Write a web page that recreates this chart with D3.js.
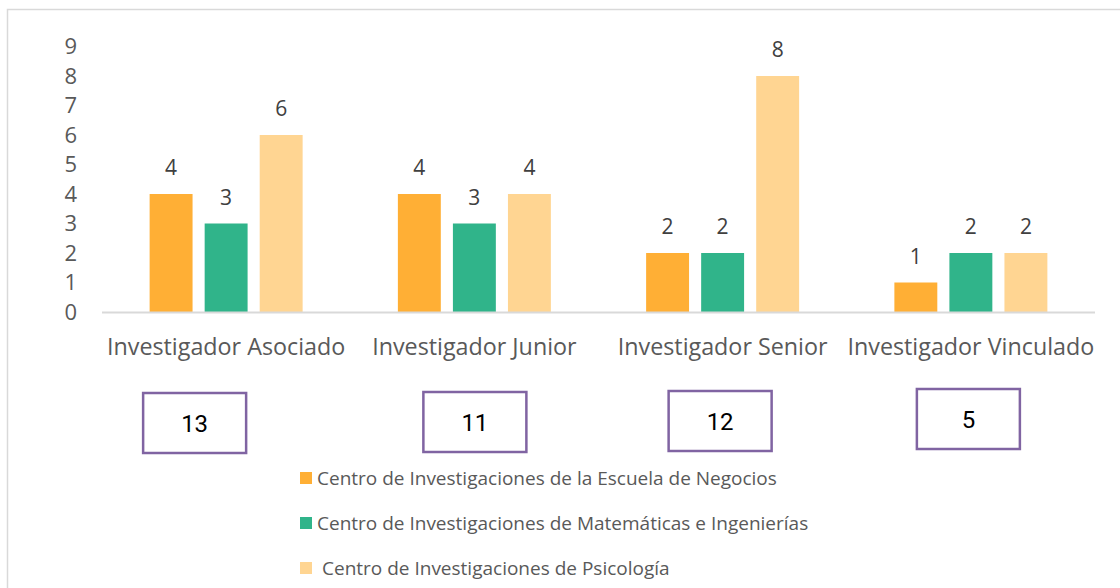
<!DOCTYPE html>
<html>
<head>
<meta charset="utf-8">
<script src="https://cdn.jsdelivr.net/npm/d3@7"></script>
<style>
  body { margin: 0; background: #fff; }
  svg { display: block; }
</style>
</head>
<body>
<svg width="1120" height="588"></svg>
<script>
const categories = ['Investigador Asociado', 'Investigador Junior', 'Investigador Senior', 'Investigador Vinculado'];
const seriesNames = [
  'Centro de Investigaciones de la Escuela de Negocios',
  'Centro de Investigaciones de Matemáticas e Ingenierías',
  'Centro de Investigaciones de Psicología'
];
const negocios = [4, 4, 2, 1];
const matematicas = [3, 3, 2, 2];
const psicologia = [6, 4, 8, 2];
const yTicks = [0, 1, 2, 3, 4, 5, 6, 7, 8, 9];
const colors = ['#FFAF35', '#30B48A', '#FFD592'];

const series = [negocios, matematicas, psicologia];
const totals = categories.map((c, i) => d3.sum(series, s => s[i]));

const svg = d3.select('svg');
const font = '"Open Sans", sans-serif';

// outer frame (cut off on right/bottom)
svg.append('path')
  .attr('d', 'M7.5,600 V9.5 H1130')
  .attr('fill', 'none')
  .attr('stroke', '#d9d9d9')
  .attr('stroke-width', 1.5);

const x0 = d3.scaleBand().domain(categories).range([102, 1095]);
const x1 = d3.scaleBand().domain([0, 1, 2]).range([0, 153]).paddingInner(0.22);
const y = d3.scaleLinear().domain([0, 9]).range([312, 46.5]);

// y labels (no axis line)
svg.selectAll('.ytick')
  .data(yTicks)
  .join('text')
  .attr('class', 'ytick')
  .attr('x', 77)
  .attr('y', d => y(d))
  .attr('dy', '0.36em')
  .attr('text-anchor', 'end')
  .style('font-family', font)
  .style('font-size', '22px')
  .style('fill', '#595959')
  .text(d => d);

// groups
const groups = svg.selectAll('.grp')
  .data(categories)
  .join('g')
  .attr('class', 'grp')
  .attr('transform', d => `translate(${x0(d) + x0.bandwidth() / 2 - 76.5},0)`);

groups.selectAll('rect')
  .data((d, i) => series.map((s, k) => ({ k, v: s[i] })))
  .join('rect')
  .attr('x', d => x1(d.k))
  .attr('width', x1.bandwidth())
  .attr('y', d => y(d.v))
  .attr('height', d => y(0) - y(d.v))
  .attr('fill', d => colors[d.k]);

groups.selectAll('.val')
  .data((d, i) => series.map((s, k) => ({ k, v: s[i] })))
  .join('text')
  .attr('class', 'val')
  .attr('x', d => x1(d.k) + x1.bandwidth() / 2)
  .attr('y', d => y(d.v) - 26)
  .attr('dy', '0.35em')
  .attr('text-anchor', 'middle')
  .style('font-family', font)
  .style('font-size', '21px')
  .style('fill', '#404040')
  .text(d => d.v);

// baseline
svg.append('line')
  .attr('x1', 102).attr('x2', 1095)
  .attr('y1', y(0) + 0.5).attr('y2', y(0) + 0.5)
  .attr('stroke', '#d9d9d9')
  .attr('stroke-width', 2);

// category labels
svg.selectAll('.cat')
  .data(categories)
  .join('text')
  .attr('class', 'cat')
  .attr('x', d => x0(d) + x0.bandwidth() / 2)
  .attr('y', 347)
  .attr('dy', '0.35em')
  .attr('text-anchor', 'middle')
  .style('font-family', font)
  .style('font-size', '23.3px')
  .style('fill', '#595959')
  .text(d => d);

// total boxes (slightly uneven hand placement)
const boxOffsets = [[-83, 393], [-51, 392], [-54, 391], [-54, 389]];
const boxes = svg.selectAll('.box')
  .data(totals)
  .join('g')
  .attr('class', 'box')
  .attr('transform', (d, i) => `translate(${x0(categories[i]) + x0.bandwidth() / 2 + boxOffsets[i][0]},${boxOffsets[i][1]})`);

boxes.append('rect')
  .attr('width', 103)
  .attr('height', 60)
  .attr('fill', '#fff')
  .attr('stroke', '#8064A2')
  .attr('stroke-width', 2.5);

boxes.append('text')
  .attr('x', 51.5)
  .attr('y', 31)
  .attr('dy', '0.35em')
  .attr('text-anchor', 'middle')
  .style('font-family', 'Roboto, sans-serif')
  .style('font-weight', 400)
  .style('font-size', '24px')
  .style('fill', '#000')
  .text(d => d);

// legend
const legend = svg.selectAll('.leg')
  .data(seriesNames)
  .join('g')
  .attr('class', 'leg')
  .attr('transform', (d, i) => `translate(300,${478 + i * 45})`);

legend.append('rect')
  .attr('x', 0).attr('y', -6)
  .attr('width', 12).attr('height', 12)
  .attr('fill', (d, i) => colors[i]);

legend.append('text')
  .attr('x', (d, i) => i === 2 ? 22 : 17)
  .attr('y', 0)
  .attr('dy', '0.35em')
  .style('font-family', font)
  .style('font-size', '19px')
  .style('fill', '#595959')
  .text(d => d);
</script>
</body>
</html>
